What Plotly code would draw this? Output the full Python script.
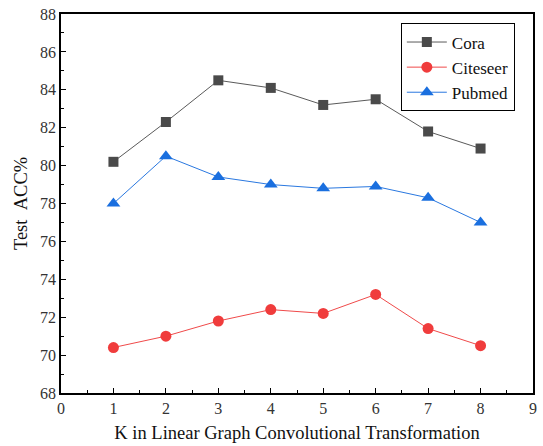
import plotly.graph_objects as go

k_values = [1, 2, 3, 4, 5, 6, 7, 8]
cora = [80.2, 82.3, 84.5, 84.1, 83.2, 83.5, 81.8, 80.9]
citeseer = [70.4, 71.0, 71.8, 72.4, 72.2, 73.2, 71.4, 70.5]
pubmed = [78.0, 80.5, 79.4, 79.0, 78.8, 78.9, 78.3, 77.0]

FONT = "'Times New Roman', 'Liberation Serif', serif"

fig = go.Figure()
fig.add_trace(go.Scatter(x=k_values, y=cora, name="Cora", mode="lines+markers",
                         line=dict(color="#5a5a5a", width=1),
                         marker=dict(symbol="square", size=10, color="#4a4a4a")))
fig.add_trace(go.Scatter(x=k_values, y=citeseer, name="Citeseer", mode="lines+markers",
                         line=dict(color="#f04a4a", width=1),
                         marker=dict(symbol="circle", size=11, color="#f03c3c")))
fig.add_trace(go.Scatter(x=k_values, y=pubmed, name="Pubmed", mode="lines+markers",
                         line=dict(color="#2a78e0", width=1),
                         marker=dict(symbol="triangle-up", size=12, color="#1a6fdf")))

fig.update_layout(
    width=543, height=446,
    margin=dict(l=61, r=10, t=14, b=53, autoexpand=False),
    paper_bgcolor="white", plot_bgcolor="white",
    font=dict(family=FONT, size=16, color="#222"),
    showlegend=True,
    legend=dict(x=0.72, y=0.975, xanchor="left", yanchor="top",
                bordercolor="black", borderwidth=1, bgcolor="white",
                font=dict(family=FONT, size=17, color="#111"),
                tracegroupgap=0, itemwidth=40),
    xaxis=dict(range=[0, 9], dtick=1, tick0=0, ticks="inside", ticklen=5,
               tickcolor="black", showline=True, linecolor="black", linewidth=1.5,
               mirror=True, showgrid=False, zeroline=False, automargin=False,
               tickfont=dict(family=FONT, size=16, color="#333"),
               minor=dict(dtick=0.5, ticks="inside", ticklen=3, tickcolor="black"),
               title=dict(text="K in Linear Graph Convolutional Transformation",
                          font=dict(family=FONT, size=18.5, color="#111"), standoff=10)),
    yaxis=dict(range=[68, 88], dtick=2, tick0=68, ticks="inside", ticklen=5,
               tickcolor="black", showline=True, linecolor="black", linewidth=1.5,
               mirror=True, showgrid=False, zeroline=False, automargin=False,
               tickfont=dict(family=FONT, size=16, color="#333"),
               minor=dict(dtick=1, ticks="inside", ticklen=3, tickcolor="black"),
               title=dict(text="Test\u00a0\u00a0ACC%",
                          font=dict(family=FONT, size=18.5, color="#111"), standoff=8)),
)

fig.write_html("out.html", config={"displayModeBar": False},
               post_script="document.body.style.margin='0px';document.body.style.overflow='hidden';")
